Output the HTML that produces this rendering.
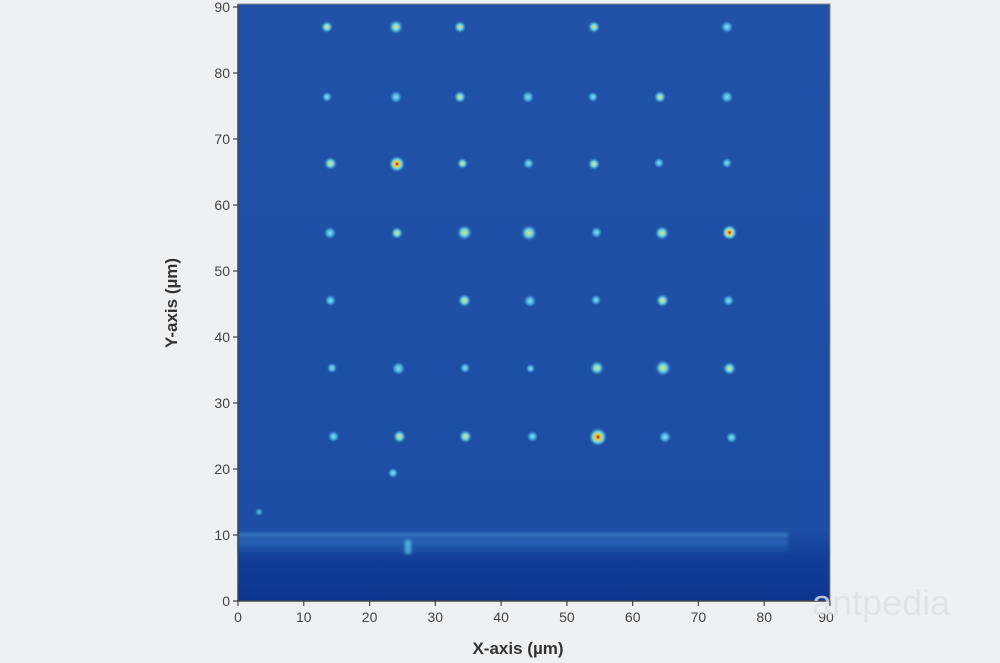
<!DOCTYPE html>
<html><head><style>
html,body{margin:0;padding:0;background:#eef1f4;}
svg{display:block;font-family:"Liberation Sans",sans-serif;}
</style></head><body>
<svg width="1000" height="663" viewBox="0 0 1000 663">
<defs>
<linearGradient id="bg" x1="0" y1="0" x2="0" y2="1">
<stop offset="0" stop-color="#2152a8"/>
<stop offset="0.88" stop-color="#1d4ea5"/>
<stop offset="0.93" stop-color="#113d98"/>
<stop offset="1" stop-color="#0c3690"/>
</linearGradient>
<filter id="bl"><feGaussianBlur stdDeviation="1.5"/></filter>
<radialGradient id="sp"><stop offset="0" stop-color="#e8e86a"/><stop offset="0.45" stop-color="#6fd3e0"/><stop offset="1" stop-color="#3aa0dc" stop-opacity="0"/></radialGradient>
<radialGradient id="sd"><stop offset="0" stop-color="#8ce0ea"/><stop offset="0.5" stop-color="#48aee0"/><stop offset="1" stop-color="#3aa0dc" stop-opacity="0"/></radialGradient>
<radialGradient id="sr"><stop offset="0" stop-color="#c0161a"/><stop offset="0.3" stop-color="#f0d040"/><stop offset="0.6" stop-color="#70d4e0"/><stop offset="1" stop-color="#3aa0dc" stop-opacity="0"/></radialGradient>
</defs>
<rect x="238" y="4" width="592" height="597" fill="url(#bg)"/>
<g filter="url(#bl)">
<rect x="238" y="533" width="550" height="4" fill="#4aa6e0" opacity="0.55"/>
<rect x="238" y="539" width="550" height="6" fill="#3b8ad4" opacity="0.4"/>
<rect x="238" y="545" width="550" height="7" fill="#2f6fc0" opacity="0.3"/>
<rect x="405" y="540" width="6" height="14" fill="#5cc4e6" opacity="0.8"/>
</g>
<g>
<rect x="321" y="21" width="12" height="12" fill="url(#sp)"/>
<rect x="389" y="20" width="14" height="14" fill="url(#sp)"/>
<rect x="454" y="21" width="12" height="12" fill="url(#sp)"/>
<rect x="588" y="21" width="12" height="12" fill="url(#sp)"/>
<rect x="721" y="21" width="12" height="12" fill="url(#sd)"/>

<rect x="322" y="92" width="10" height="10" fill="url(#sd)"/>
<rect x="390" y="91" width="12" height="12" fill="url(#sd)"/>
<rect x="454" y="91" width="12" height="12" fill="url(#sp)"/>
<rect x="522" y="91" width="12" height="12" fill="url(#sd)"/>
<rect x="588" y="92" width="10" height="10" fill="url(#sd)"/>
<rect x="654" y="91" width="12" height="12" fill="url(#sp)"/>
<rect x="721" y="91" width="12" height="12" fill="url(#sd)"/>

<rect x="324" y="157" width="13" height="13" fill="url(#sp)"/>
<rect x="389" y="156" width="16" height="16" fill="url(#sr)"/>
<rect x="457" y="158" width="11" height="11" fill="url(#sp)"/>
<rect x="523" y="158" width="11" height="11" fill="url(#sd)"/>
<rect x="588" y="158" width="12" height="12" fill="url(#sp)"/>
<rect x="654" y="158" width="10" height="10" fill="url(#sd)"/>
<rect x="722" y="158" width="10" height="10" fill="url(#sd)"/>

<rect x="324" y="227" width="12" height="12" fill="url(#sd)"/>
<rect x="391" y="227" width="12" height="12" fill="url(#sp)"/>
<rect x="457" y="225" width="15" height="15" fill="url(#sp)"/>
<rect x="521" y="225" width="16" height="16" fill="url(#sp)"/>
<rect x="591" y="227" width="11" height="11" fill="url(#sd)"/>
<rect x="655" y="226" width="14" height="14" fill="url(#sp)"/>
<rect x="722" y="225" width="15" height="15" fill="url(#sr)"/>

<rect x="325" y="295" width="11" height="11" fill="url(#sd)"/>
<rect x="458" y="294" width="13" height="13" fill="url(#sp)"/>
<rect x="524" y="295" width="12" height="12" fill="url(#sd)"/>
<rect x="591" y="295" width="10" height="10" fill="url(#sd)"/>
<rect x="656" y="294" width="13" height="13" fill="url(#sp)"/>
<rect x="723" y="295" width="11" height="11" fill="url(#sd)"/>

<rect x="327" y="363" width="10" height="10" fill="url(#sd)"/>
<rect x="392" y="362" width="13" height="13" fill="url(#sd)"/>
<rect x="460" y="363" width="10" height="10" fill="url(#sd)"/>
<rect x="526" y="364" width="9" height="9" fill="url(#sd)"/>
<rect x="590" y="361" width="14" height="14" fill="url(#sp)"/>
<rect x="655" y="360" width="16" height="16" fill="url(#sp)"/>
<rect x="723" y="362" width="13" height="13" fill="url(#sp)"/>

<rect x="328" y="431" width="11" height="11" fill="url(#sd)"/>
<rect x="393" y="430" width="13" height="13" fill="url(#sp)"/>
<rect x="459" y="430" width="13" height="13" fill="url(#sp)"/>
<rect x="527" y="431" width="11" height="11" fill="url(#sd)"/>
<rect x="589" y="428" width="18" height="18" fill="url(#sr)"/>
<rect x="659" y="431" width="12" height="12" fill="url(#sd)"/>
<rect x="726" y="432" width="11" height="11" fill="url(#sd)"/>
<rect x="388" y="468" width="10" height="10" fill="url(#sd)"/>
<rect x="255" y="508" width="8" height="8" fill="url(#sd)" opacity="0.7"/>
</g>
<g stroke="#444" stroke-width="1.5" fill="none">
<path d="M238 4V601H830"/>
<path d="M238 4H830V601" stroke="#888" stroke-width="1"/>
</g>
<g stroke="#444" stroke-width="1.2">
<path d="M238 601v5M303.8 601v5M369.6 601v5M435.3 601v5M501.1 601v5M566.9 601v5M632.7 601v5M698.4 601v5M764.2 601v5M830 601v5"/>
<path d="M233 601h5M233 535h5M233 469h5M233 403h5M233 337h5M233 271h5M233 205h5M233 139h5M233 73h5M233 7h5"/>
</g>
<g font-size="14" fill="#444" text-anchor="middle">
<text x="238" y="622">0</text><text x="303.8" y="622">10</text><text x="369.6" y="622">20</text><text x="435.3" y="622">30</text><text x="501.1" y="622">40</text><text x="566.9" y="622">50</text><text x="632.7" y="622">60</text><text x="698.4" y="622">70</text><text x="764.2" y="622">80</text><text x="826" y="622">90</text>
</g>
<g font-size="14" fill="#444" text-anchor="end">
<text x="230" y="606">0</text><text x="230" y="540">10</text><text x="230" y="474">20</text><text x="230" y="408">30</text><text x="230" y="342">40</text><text x="230" y="276">50</text><text x="230" y="210">60</text><text x="230" y="144">70</text><text x="230" y="78">80</text><text x="230" y="12">90</text>
</g>
<text x="518" y="654" font-size="17" font-weight="bold" fill="#333" text-anchor="middle">X-axis (µm)</text>
<text transform="translate(177,303) rotate(-90)" font-size="17" font-weight="bold" fill="#333" text-anchor="middle">Y-axis (µm)</text>
<text x="812" y="615" font-size="36" fill="#dde2e8" opacity="0.8">antpedia</text>
</svg>
</body></html>
